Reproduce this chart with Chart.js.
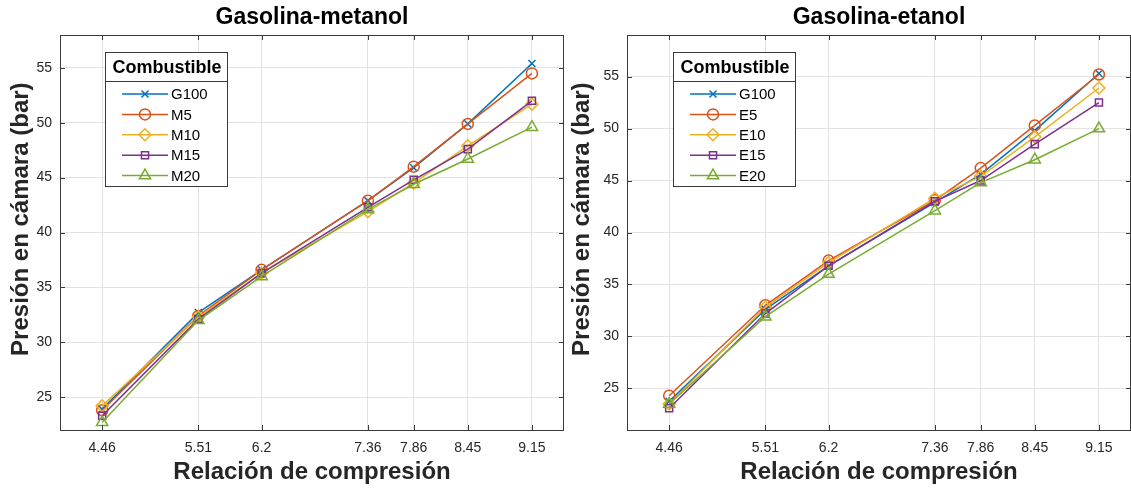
<!DOCTYPE html>
<html>
<head>
<meta charset="utf-8">
<script src="https://cdn.jsdelivr.net/npm/chart.js@4/dist/chart.umd.min.js"></script>
<style>
  html, body { margin: 0; padding: 0; background: #fff; }
  #wrap { position: relative; width: 1131px; height: 488px; overflow: hidden; }
  .pane { position: absolute; top: 0; height: 488px; }
  #paneL { left: 0; width: 566px; }
  #paneR { left: 566px; width: 565px; }
</style>
</head>
<body>
<div id="wrap">
  <div class="pane" id="paneL"><canvas id="chartL"></canvas></div>
  <div class="pane" id="paneR"><canvas id="chartR"></canvas></div>
</div>
<script>
// Compression ratios and axis ticks
const compressionRatios = [4.46, 5.51, 6.2, 7.36, 7.86, 8.45, 9.15];
const xTickLabels = ['4.46', '5.51', '6.2', '7.36', '7.86', '8.45', '9.15'];
const yTicks = [25, 30, 35, 40, 45, 50, 55];

// Gasoline-methanol blends: peak chamber pressure (bar)
const metanolNames = ['G100', 'M5', 'M10', 'M15', 'M20'];
const metG100 = [23.9, 32.7, 36.6, 42.9, 45.9, 49.9, 55.4];
const metM5   = [23.8, 32.4, 36.6, 42.9, 46.0, 49.9, 54.5];
const metM10  = [24.2, 32.3, 36.3, 41.9, 44.5, 47.9, 51.7];
const metM15  = [23.3, 32.1, 36.3, 42.3, 44.8, 47.6, 52.0];
const metM20  = [22.7, 32.0, 36.0, 42.1, 44.4, 46.7, 49.6];

// Gasoline-ethanol blends: peak chamber pressure (bar)
const etanolNames = ['G100', 'E5', 'E10', 'E15', 'E20'];
const etG100 = [23.75, 32.6, 36.8, 42.9, 45.6, 49.8, 55.3];
const etE5   = [24.3, 33.0, 37.3, 43.1, 46.2, 50.3, 55.2];
const etE10  = [23.5, 32.8, 37.1, 43.3, 45.4, 49.2, 53.9];
const etE15  = [23.1, 32.2, 36.8, 43.0, 45.0, 48.5, 52.5];
const etE20  = [23.5, 31.9, 36.0, 42.1, 44.8, 47.0, 50.0];

// Series styles (line colours and markers)
const seriesColors = ['#0072BD', '#D95319', '#EDB120', '#7E2F8E', '#77AC30'];
const seriesMarkers = ['crossRot', 'circle', 'rectRot', 'rect', 'triangle'];
const markerRadius = [5, 5.5, 6, 5, 6.5];

const FONT = '"Liberation Sans", Arial, Helvetica, sans-serif';
const AXIS_COLOR = '#3a3a3a';
const TEXT_COLOR = '#262626';

function makeDatasets(names, series) {
  return names.map((name, i) => ({
    label: name,
    data: compressionRatios.map((x, k) => ({ x: x, y: series[i][k] })),
    borderColor: seriesColors[i],
    backgroundColor: 'rgba(0,0,0,0)',
    borderWidth: 1.5,
    pointStyle: seriesMarkers[i],
    pointRadius: markerRadius[i],
    pointHoverRadius: markerRadius[i],
    pointBorderColor: seriesColors[i],
    pointBackgroundColor: 'rgba(0,0,0,0)',
    pointBorderWidth: 1.5,
    tension: 0,
    fill: false,
    order: names.length - i
  }));
}

// Full axes box with inward tick marks on all four sides
const boxTicks = {
  id: 'boxTicks',
  afterDraw(chart) {
    const { ctx, chartArea: a, scales: { x, y } } = chart;
    const len = 5;
    ctx.save();
    ctx.strokeStyle = AXIS_COLOR;
    ctx.lineWidth = 1;
    ctx.beginPath();
    y.ticks.forEach(t => {
      const py = Math.round(y.getPixelForValue(t.value)) + 0.5;
      ctx.moveTo(a.left, py); ctx.lineTo(a.left + len, py);
      ctx.moveTo(a.right, py); ctx.lineTo(a.right - len, py);
    });
    x.ticks.forEach(t => {
      const px = Math.round(x.getPixelForValue(t.value)) + 0.5;
      ctx.moveTo(px, a.bottom); ctx.lineTo(px, a.bottom - len);
      ctx.moveTo(px, a.top); ctx.lineTo(px, a.top + len);
    });
    ctx.stroke();
    ctx.strokeRect(Math.round(a.left) + 0.5, Math.round(a.top) + 0.5,
                   Math.round(a.right - a.left) - 1, Math.round(a.bottom - a.top));
    ctx.restore();
  }
};

// Boxed legend with a bold title row
const boxLegend = {
  id: 'boxLegend',
  afterDatasetsDraw(chart, args, opts) {
    const { ctx } = chart;
    const bx = opts.x, by = opts.y, bw = opts.w, bh = opts.h;
    ctx.save();
    ctx.fillStyle = '#ffffff';
    ctx.fillRect(bx, by, bw, bh);
    ctx.strokeStyle = AXIS_COLOR;
    ctx.lineWidth = 1;
    ctx.strokeRect(bx + 0.5, by + 0.5, bw, bh);
    ctx.beginPath();
    ctx.moveTo(bx, by + 29.5); ctx.lineTo(bx + bw, by + 29.5);
    ctx.stroke();
    ctx.fillStyle = '#000';
    ctx.font = 'bold 18px ' + FONT;
    ctx.textAlign = 'center';
    ctx.textBaseline = 'middle';
    ctx.fillText(opts.title, bx + bw / 2 + 1, by + 16);
    ctx.font = '15px ' + FONT;
    ctx.textAlign = 'left';
    chart.data.datasets.forEach((ds, i) => {
      const cy = by + 42 + i * 20.4;
      ctx.strokeStyle = ds.borderColor;
      ctx.lineWidth = 1.5;
      ctx.beginPath();
      ctx.moveTo(bx + 17, cy); ctx.lineTo(bx + 63, cy);
      ctx.stroke();
      ctx.fillStyle = 'rgba(0,0,0,0)';
      Chart.helpers.drawPoint(ctx, {
        pointStyle: ds.pointStyle, radius: ds.pointRadius, rotation: 0, borderWidth: 1.5
      }, bx + 40, cy);
      ctx.fillStyle = '#000';
      ctx.fillText(ds.label, bx + 66, cy + 1);
    });
    ctx.restore();
  }
};

function makeChart(canvasId, titleText, names, series, yMin, yMax, yAxisWidth, yTitlePad, padRight, legendBox) {
  return new Chart(document.getElementById(canvasId), {
    type: 'line',
    data: { datasets: makeDatasets(names, series) },
    options: {
      responsive: true,
      maintainAspectRatio: false,
      animation: false,
      events: [],
      layout: { autoPadding: false, padding: { left: 0, right: padRight, top: 0, bottom: 0 } },
      plugins: {
        legend: { display: false },
        tooltip: { enabled: false },
        title: {
          display: true,
          fullSize: false,
          text: titleText,
          color: '#000',
          font: { family: FONT, size: 23, weight: 'bold', lineHeight: '28px' },
          padding: { top: 4, bottom: 3 }
        },
        boxLegend: Object.assign({ title: 'Combustible' }, legendBox)
      },
      scales: {
        x: {
          type: 'linear',
          min: 4,
          max: 9.5,
          afterBuildTicks: s => { s.ticks = compressionRatios.map(v => ({ value: v })); },
          afterFit: s => { s.height = 58; s.paddingLeft = 0; s.paddingRight = 0; },
          ticks: {
            color: TEXT_COLOR,
            font: { family: FONT, size: 14 },
            padding: 10,
            maxRotation: 0,
            autoSkip: false,
            callback: (v) => {
              const k = compressionRatios.indexOf(v);
              return k >= 0 ? xTickLabels[k] : '';
            }
          },
          grid: { color: '#e3e3e3', lineWidth: 1, drawTicks: false },
          border: { display: false },
          title: {
            display: true,
            text: 'Relación de compresión',
            color: '#262626',
            font: { family: FONT, size: 24, weight: 'bold', lineHeight: 1.2 },
            padding: { top: 0, bottom: 1 }
          }
        },
        y: {
          type: 'linear',
          min: yMin,
          max: yMax,
          afterBuildTicks: s => { s.ticks = yTicks.map(v => ({ value: v })); },
          afterFit: s => { s.width = yAxisWidth; s.paddingTop = 0; s.paddingBottom = 0; },
          ticks: {
            color: TEXT_COLOR,
            font: { family: FONT, size: 14 },
            padding: 8
          },
          grid: { color: '#e3e3e3', lineWidth: 1, drawTicks: false },
          border: { display: false },
          title: {
            display: true,
            // leading spaces lift the label slightly above the axis centre
            text: '    Presión en cámara (bar)',
            color: '#262626',
            font: { family: FONT, size: 24, weight: 'bold', lineHeight: 1.2 },
            padding: { top: yTitlePad, bottom: 0 }
          }
        }
      }
    },
    plugins: [boxTicks, boxLegend]
  });
}

makeChart('chartL', 'Gasolina-metanol', metanolNames,
  [metG100, metM5, metM10, metM15, metM20], 22, 58, 60, 7, 2,
  { x: 105, y: 52, w: 122, h: 134 });

makeChart('chartR', 'Gasolina-etanol', etanolNames,
  [etG100, etE5, etE10, etE15, etE20], 21, 59, 61, 2, 0,
  { x: 107, y: 52, w: 122, h: 134 });
</script>
</body>
</html>
